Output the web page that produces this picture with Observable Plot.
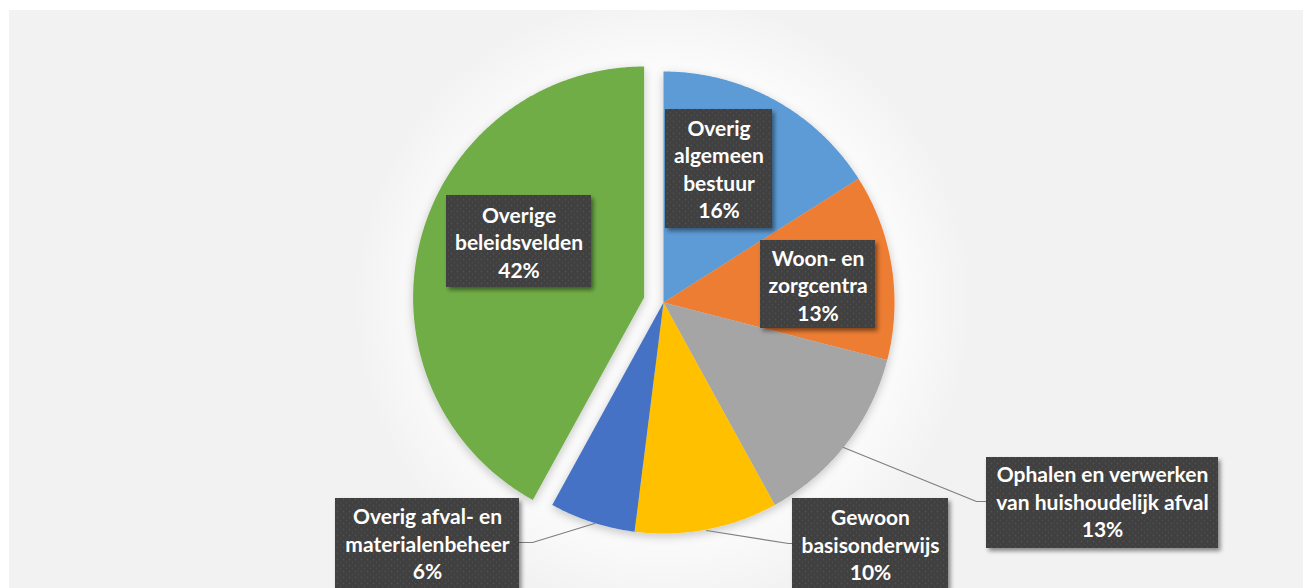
<!DOCTYPE html>
<html>
<head>
<meta charset="utf-8">
<script src="https://cdn.jsdelivr.net/npm/d3@7"></script>
<script src="https://cdn.jsdelivr.net/npm/@observablehq/plot@0.6"></script>
<style>
  html, body { margin: 0; padding: 0; background: #ffffff; }
  #wrap { position: relative; width: 1313px; height: 588px; overflow: hidden; background: #ffffff; }
  #panel { position: absolute; left: 9px; top: 10px; width: 1294px; height: 600px;
    background: radial-gradient(circle at 654px 292px, #fbfbfb 0px, #fbfbfb 236px, #f2f2f2 310px, #f2f2f2 100%); }
  #chart { position: absolute; left: 0; top: 0; }
</style>
</head>
<body>
<div id="wrap"><div id="panel"></div><div id="chart"></div></div>
<script>
// ---- data ----
const categories = [
  "Overig algemeen bestuur",
  "Woon- en zorgcentra",
  "Ophalen en verwerken van huishoudelijk afval",
  "Gewoon basisonderwijs",
  "Overig afval- en materialenbeheer",
  "Overige beleidsvelden"
];
const values = [16, 13, 13, 10, 6, 42];
const labelLines = [
  ["Overig", "algemeen", "bestuur"],
  ["Woon- en", "zorgcentra"],
  ["Ophalen en verwerken", "van huishoudelijk afval"],
  ["Gewoon", "basisonderwijs"],
  ["Overig afval- en", "materialenbeheer"],
  ["Overige", "beleidsvelden"]
];
const colors = ["#5B9BD5", "#ED7D31", "#A5A5A5", "#FFC000", "#4472C4", "#70AD47"];
const explode = [0, 0, 0, 0, 0, 20];

// ---- layout (pixels relative to pie centre) ----
const W = 1313, H = 588, CX = 663, CY = 302, R = 231;
const boxes = [ // [x1, y1, x2, y2] in page pixels
  [665, 109, 772, 228],
  [760, 240, 875, 328],
  [986, 457, 1218, 548],
  [792, 498, 948, 600],
  [335, 498, 519, 600],
  [446, 195, 591, 287]
];
const textCenters = [ // [x, yCenter of block]
  [718.5, 167.5],
  [817.5, 284],
  [1102, 500.5],
  [870, 543.5],
  [427, 542.5],
  [518.5, 241]
];
const leaders = [ // page pixel polylines
  null, null,
  [[843, 447], [976, 501], [986, 501]],
  [[706, 530], [788, 543], [792, 543]],
  [[519, 542], [532, 542], [594, 523]],
  null
];

const toX = px => px - CX, toY = py => py - CY;

// slices
const arcs = d3.pie().sort(null).value(d => d)(values);
const slicePts = [];
arcs.forEach((a, i) => {
  const mid = (a.startAngle + a.endAngle) / 2;
  const ox = explode[i] * Math.sin(mid), oy = -explode[i] * Math.cos(mid);
  slicePts.push({cat: categories[i], x: ox, y: oy});
  const n = Math.max(2, Math.ceil((a.endAngle - a.startAngle) / (Math.PI / 360)));
  for (let k = 0; k <= n; k++) {
    const t = a.startAngle + (a.endAngle - a.startAngle) * k / n;
    slicePts.push({cat: categories[i], x: ox + R * Math.sin(t), y: oy - R * Math.cos(t)});
  }
});

const boxData = boxes.map((b, i) => ({cat: categories[i], x1: toX(b[0]), y1: toY(b[1]), x2: toX(b[2]), y2: toY(b[3])}));
const textData = textCenters.map((c, i) => ({
  x: toX(c[0]), y: toY(c[1]),
  label: labelLines[i].join("\n") + "\n" + values[i] + "%"
}));
const leaderPts = [];
leaders.forEach((l, i) => { if (l) l.forEach(p => leaderPts.push({cat: categories[i], x: toX(p[0]), y: toY(p[1])})); });

const chart = Plot.plot({
  width: W, height: H,
  margin: 0,
  style: {background: "transparent", overflow: "visible"},
  x: {domain: [-CX, W - CX], range: [0, W], axis: null},
  y: {domain: [-CY, H - CY], range: [0, H], axis: null},
  color: {domain: categories, range: colors},
  marks: [
    Plot.line(slicePts, {x: "x", y: "y", z: "cat", fill: "cat", stroke: "none", curve: "linear-closed", ariaDescription: "slices"}),
    Plot.line(leaderPts, {x: "x", y: "y", z: "cat", stroke: "#7f7f7f", strokeWidth: 1.2, curve: "linear", ariaDescription: "leaders"}),
    Plot.rect(boxData, {x1: "x1", x2: "x2", y1: "y1", y2: "y2", fill: "#404040", ariaDescription: "boxes"}),
    Plot.text(textData, {x: "x", y: "y", text: "label", fill: "#ffffff", fontSize: 21, fontWeight: "bold",
      fontFamily: "Lato, 'Open Sans', sans-serif", lineHeight: 1.31, textAnchor: "middle", ariaDescription: "labels"})
  ]
});

// defs: texture + shadows
const ns = "http://www.w3.org/2000/svg";
const defs = document.createElementNS(ns, "defs");
defs.innerHTML = `
  <pattern id="dots" width="6" height="6" patternUnits="userSpaceOnUse">
    <rect width="6" height="6" fill="#3f3f3f"/>
    <circle cx="1.5" cy="1.5" r="0.9" fill="#505050"/>
    <circle cx="4.5" cy="4.5" r="0.9" fill="#4b4b4b"/>
  </pattern>
  <filter id="boxShadow" x="-20%" y="-20%" width="140%" height="150%">
    <feDropShadow dx="2.5" dy="3" stdDeviation="2" flood-color="#000" flood-opacity="0.45"/>
  </filter>
  <filter id="pieShadow" x="-20%" y="-20%" width="140%" height="140%">
    <feDropShadow dx="0" dy="3" stdDeviation="5" flood-color="#000" flood-opacity="0.22"/>
  </filter>`;
chart.insertBefore(defs, chart.firstChild);
const g = d => chart.querySelector(`g[aria-description="${d}"]`);
if (g("slices")) g("slices").setAttribute("filter", "url(#pieShadow)");
if (g("boxes")) {
  g("boxes").setAttribute("filter", "url(#boxShadow)");
  g("boxes").querySelectorAll("rect").forEach(r => r.setAttribute("fill", "url(#dots)"));
  g("boxes").setAttribute("fill", "url(#dots)");
}
document.getElementById("chart").appendChild(chart);
</script>
</body>
</html>
